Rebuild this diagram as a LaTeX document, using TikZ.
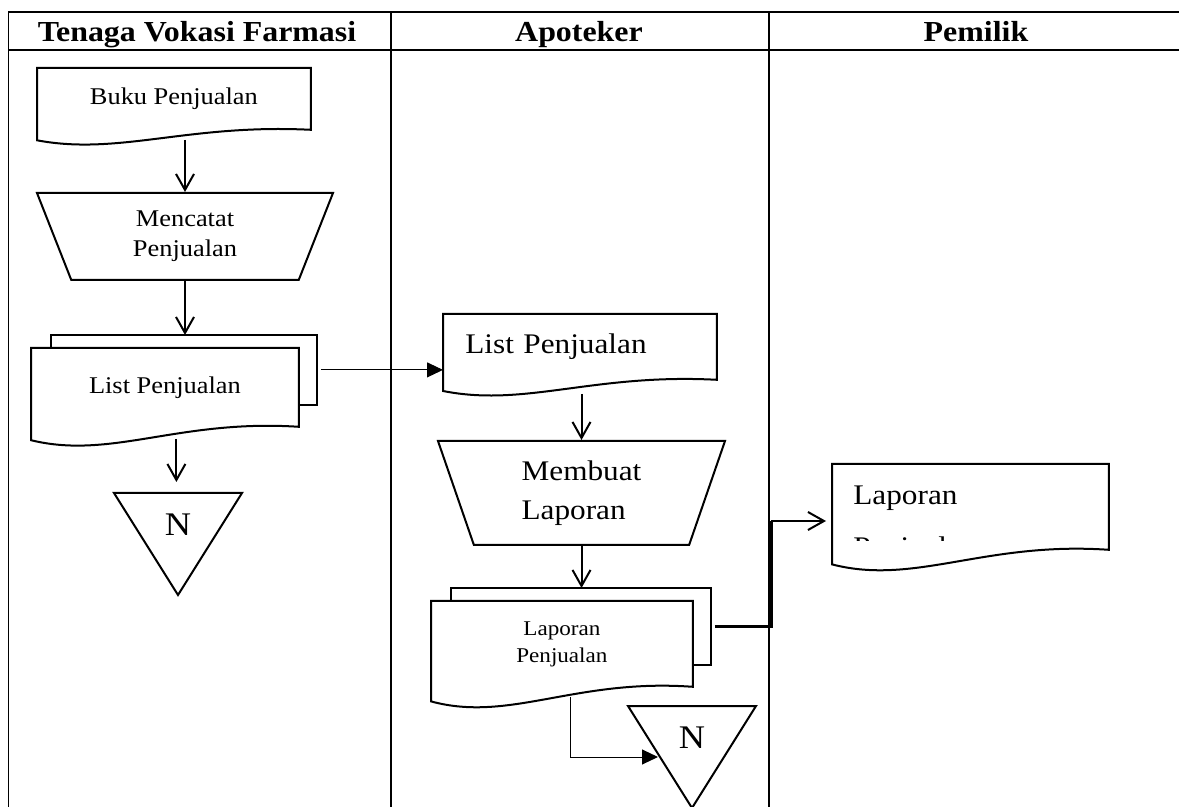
\documentclass[tikz,border=0pt]{standalone}
\usepackage{fontspec}
\setmainfont{Liberation Serif}[FakeStretch=1.1]
\usetikzlibrary{shapes.geometric,calc,arrows.meta,backgrounds,positioning}

\newcommand\txthead{\fontsize{14.5}{17}\selectfont\bfseries}
\newcommand\txtbody{\fontsize{12}{15}\selectfont}
\newcommand\txtbig{\fontsize{14.2}{19.5}\selectfont}
\newcommand\txtsmall{\fontsize{10.5}{13.5}\selectfont}
\newcommand\txtn{\fontsize{16.5}{18}\selectfont}

% document with wavy bottom, behind the node text
\newcommand\docline[1]{%
\begin{pgfonlayer}{background}
\draw[box,fill=white] let \p1=(#1.north west), \p2=(#1.south east), \n1={\y1-\y2} in
  (\x2,\y2) -- (\x2,\y1) -- (\x1,\y1) -- (\x1,{\y2-0.17*\n1})
  .. controls ({\x1+0.3*(\x2-\x1)},{\y2-0.42*\n1}) and ({\x1+0.55*(\x2-\x1)},{\y2+0.1*\n1}) .. (\x2,\y2) -- cycle;
\end{pgfonlayer}}

% second sheet of a multi document
\newcommand\backsheet[1]{%
\begin{pgfonlayer}{background}
\draw[box] ($(#1.north west)+(20,-13)$) coordinate (#1backnw) rectangle ($(#1.south east)+(18,-22)$) coordinate (#1backse);
\end{pgfonlayer}
\coordinate (#1backe) at ($(#1backnw -| #1backse)!0.5!(#1backse)$);}

% off-page triangle round a label
\newcommand\offpage[1]{%
\draw[box] ($(#1)+(-64,-32)$) coordinate (#1tl) -- ($(#1)+(64,-32)$) -- ($(#1)+(0,70)$) coordinate (#1tip) -- cycle;
\coordinate (#1top) at ($(#1)+(0,-32)$);
\coordinate (#1side) at ($(#1tl)!0.5!(#1tip)$);}

\begin{document}
\begin{tikzpicture}[x=0.5pt,y=-0.5pt,
  box/.style={line width=1pt},
  grid/.style={line width=0.9pt},
  flow/.style={line width=1pt,-{Straight Barb[length=8pt,width=9pt]}},
  link/.style={line width=0.5pt,-{Triangle[length=8pt,width=7.5pt]}},
  heavy/.style={line width=1.6pt},
  docnode/.style={inner sep=0pt,anchor=north west,font=\txtbody},
  proc/.style={trapezium,draw,box,shape border rotate=180,trapezium stretches body,inner sep=0pt,align=center,font=\txtbody},
  ntext/.style={font=\txtn,inner sep=0pt}]

\useasboundingbox (0,0) rectangle (1179,807);
\clip (0,0) rectangle (1179,807);

% lanes
\draw[grid] (1190,12) -- (8.5,12) -- (8.5,820);
\draw[grid] (8.5,50) -- (1190,50);
\draw[grid] (391,12) -- (391,820);
\draw[grid] (769,12) -- (769,820);
\node[font=\txthead,anchor=base] (lane1) at (197,42) {Tenaga Vokasi Farmasi};
\node[font=\txthead,anchor=base] (lane2) at (579,42) {Apoteker};
\node[font=\txthead,anchor=base] (lane3) at (976,42) {Pemilik};

% Tenaga Vokasi Farmasi
\node[docnode,minimum width=136.5pt,minimum height=30.5pt] (buku) at (37,68) {Buku Penjualan};
\docline{buku}
\node[proc,minimum width=148pt,minimum height=43.5pt,trapezium angle=56] (catat) at (185,236.5) {Mencatat\\Penjualan};
\node[docnode,minimum width=133.5pt,minimum height=39pt] (lst) at (31,348) {List Penjualan};
\backsheet{lst}
\docline{lst}
\node[ntext] (endA) at (178,525) {N};
\offpage{endA}

\draw[flow] ($(catat.north |- buku.south)+(0,10)$) -- (catat.north);
\draw[flow] (catat.south) -- (catat.south |- lstbacknw);
\draw[flow] ($(lst.south)+(11.5,12)$) -- ($(lst.south |- endAtop)+(11.5,-11)$);

% Apoteker
\node[docnode,font=\txtbig,minimum width=136.5pt,minimum height=32.5pt,text width=114.5pt,inner xsep=11pt,align=left] (lst2) at (443,314) {List Penjualan};
\docline{lst2}
\draw[link,shorten <=2pt] (lstbacke) -- (lstbacke -| lst2.west);

\node[proc,font=\txtbig,align=left,minimum width=143.5pt,minimum height=52pt,trapezium angle=61] (buat) at (581.5,493) {Membuat\\Laporan};
\draw[flow] ($(buat.north |- lst2.south)+(0,14)$) -- (buat.north);

\node[docnode,font=\txtsmall,align=center,minimum width=130.5pt,minimum height=42.5pt] (lpj) at (431,601) {Laporan\\Penjualan};
\backsheet{lpj}
\docline{lpj}
\draw[flow] (buat.south) -- (buat.south |- lpjbacknw);

\node[ntext] (endB) at (692,738) {N};
\offpage{endB}
\draw[link,shorten >=1pt] ($(lpj.south)+(8.5,10)$) |- (endBside);

% Pemilik
\node[docnode,minimum width=138pt,minimum height=42.5pt] (lap) at (832,464) {};
\docline{lap}
\node[font=\txtbig,anchor=base west,inner sep=0pt] (laptxt) at ($(lap.north west)+(21,41)$) {Laporan};
\begin{scope}
\clip (840,520) rectangle (1000,541);
\node[font=\txtbig,anchor=base west,inner sep=0pt] (lapsub) at ($(laptxt.base west)+(0,52)$) {Penjualan};
\end{scope}

\coordinate (joint) at (771,521);
\draw[heavy,shorten <=2pt] (lpjbacke) -| (joint);
\draw[flow,shorten >=3pt] (joint) -- (joint -| lap.west);
\end{tikzpicture}
\end{document}
